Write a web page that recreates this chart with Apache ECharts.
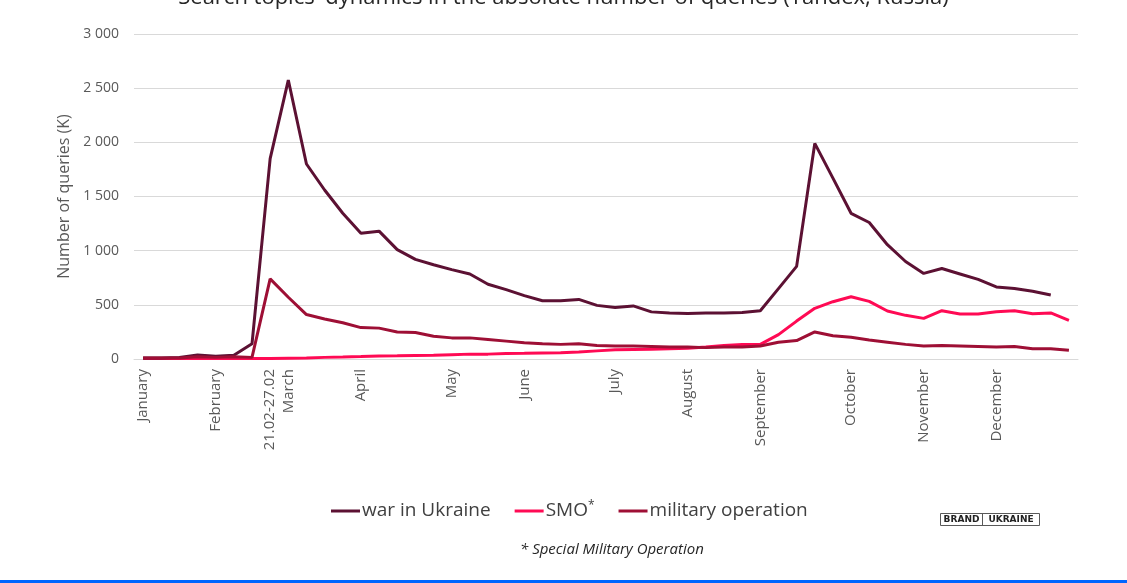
<!DOCTYPE html>
<html>
<head>
<meta charset="utf-8">
<script src="https://cdn.jsdelivr.net/npm/echarts@6/dist/echarts.min.js"></script>
<style>
html,body{margin:0;padding:0;background:#fff;}
#c{width:1127px;height:583px;}
</style>
</head>
<body>
<div id="c"></div>
<script>
const categories = ['January','','','','February','','','21.02-27.02','March','','','','April','','','','','May','','','','June','','','','','July','','','','August','','','','September','','','','','October','','','','November','','','','December','','','',''];
const warInUkraine = [10,10,15,38,25,35,140,1850,2575,1800,1560,1345,1160,1180,1010,920,870,825,785,690,640,585,538,538,550,495,475,490,435,425,420,425,425,430,445,650,855,1990,1670,1345,1260,1055,900,790,835,785,735,665,650,625,590,null];
const smo = [5,5,5,5,5,5,5,5,8,10,15,18,22,28,30,33,35,40,45,45,50,52,55,58,65,75,85,88,90,95,100,110,125,135,135,225,350,468,529,575,532,443,403,375,446,415,415,437,446,418,425,357];
const militaryOperation = [10,10,10,20,15,20,15,740,570,410,370,335,290,285,250,245,210,195,195,180,165,150,140,135,140,125,120,120,115,110,110,105,110,110,120,155,170,250,215,200,175,155,135,120,125,120,115,110,115,95,95,80];
const yTicks = [0,500,1000,1500,2000,2500,3000];

const chart = echarts.init(document.getElementById('c'), null, {renderer:'canvas'});
const font = "'Open Sans', 'Noto Sans', sans-serif";
chart.setOption({
  animation:false,
  backgroundColor:'#fff',
  textStyle:{fontFamily:font},
  title:{
    text:"Search topics' dynamics in the absolute number of queries (Yandex, Russia)",
    left:'center', top:-18,
    textStyle:{fontFamily:font, fontSize:22, fontWeight:'normal', color:'#262626'}
  },
  grid:{left:134, right:49, top:34, bottom:224, containLabel:false},
  legend:{
    left:331, top:500, padding:0,
    itemWidth:29, itemHeight:3, itemGap:24,
    icon:'rect',
    textStyle:{fontFamily:font, fontSize:19, color:'#404040', padding:[0,0,0,-3],
      rich:{sup:{fontSize:12, verticalAlign:'top', color:'#404040', padding:[0,0,10,0]}}},
    formatter:function(n){ return n==='SMO' ? 'SMO{sup|*}' : n; },
    data:['war in Ukraine','SMO','military operation']
  },
  xAxis:{
    type:'category', boundaryGap:true, data:categories,
    axisLine:{show:true, lineStyle:{color:'#d9d9d9', width:1}},
    axisTick:{show:false},
    axisLabel:{interval:0, rotate:90, margin:10, fontFamily:font, fontSize:15, color:'#595959'}
  },
  yAxis:{
    type:'value', min:yTicks[0], max:yTicks[yTicks.length-1], interval:500,
    name:'Number of queries (K)', nameLocation:'middle', nameGap:62, nameRotate:90,
    nameTextStyle:{fontFamily:font, fontSize:16, color:'#595959'},
    axisLine:{show:false}, axisTick:{show:false},
    axisLabel:{margin:15, fontFamily:font, fontSize:14, color:'#595959',
      formatter:function(v){ return String(v).replace(/\B(?=(\d{3})+(?!\d))/g,' '); }},
    splitLine:{lineStyle:{color:'#d9d9d9', width:1}}
  },
  series:[
    {name:'war in Ukraine', type:'line', data:warInUkraine, showSymbol:false, symbol:'none',
      lineStyle:{width:3, color:'#5c1133'}, itemStyle:{color:'#5c1133'}, z:3},
    {name:'SMO', type:'line', data:smo, showSymbol:false, symbol:'none',
      lineStyle:{width:3, color:'#ff0a54'}, itemStyle:{color:'#ff0a54'}, z:2},
    {name:'military operation', type:'line', data:militaryOperation, showSymbol:false, symbol:'none',
      lineStyle:{width:3, color:'#9e0f35'}, itemStyle:{color:'#9e0f35'}, z:4}
  ],
  graphic:[
    {type:'text', left:520, top:542, style:{text:'* Special Military Operation', font:"italic 15px 'Open Sans', sans-serif", fill:'#262626'}},
    {type:'group', left:940, top:511, children:[
      {type:'rect', shape:{x:0,y:0,width:99,height:12}, style:{fill:'#fff', stroke:'#595959', lineWidth:1}},
      {type:'line', shape:{x1:42,y1:0,x2:42,y2:12}, style:{stroke:'#595959', lineWidth:1}},
      {type:'text', x:21, y:6.5, style:{text:'BRAND', font:"bold 9px 'DejaVu Sans', sans-serif", fill:'#222', align:'center', verticalAlign:'middle'}},
      {type:'text', x:70.5, y:6.5, style:{text:'UKRAINE', font:"bold 9px 'DejaVu Sans', sans-serif", fill:'#222', align:'center', verticalAlign:'middle'}}
    ]},
    {type:'rect', left:0, top:580, shape:{width:1127, height:3}, style:{fill:'#0066ff'}}
  ]
});
</script>
</body>
</html>
